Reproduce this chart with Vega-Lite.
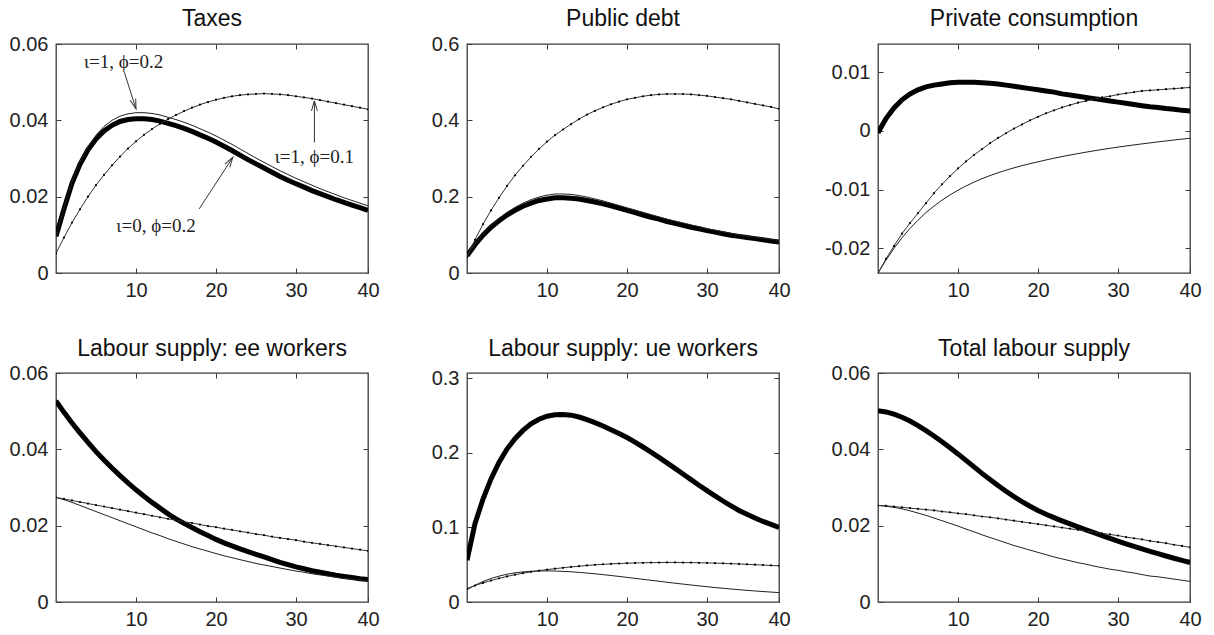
{
"$schema":"https://vega.github.io/schema/vega-lite/v6.json",
"background":"white",
"padding":{"left":8,"top":6,"right":5,"bottom":5},
"datasets":{
"curves":[
{"p":"Taxes","t":0,"thick":0.0096,"thin":0.0096,"dotted":0.0052},
{"p":"Taxes","t":1,"thick":0.0168,"thin":0.0170,"dotted":0.0093},
{"p":"Taxes","t":2,"thick":0.0235,"thin":0.0239,"dotted":0.0132},
{"p":"Taxes","t":3,"thick":0.0285,"thin":0.0291,"dotted":0.0167},
{"p":"Taxes","t":4,"thick":0.0323,"thin":0.0331,"dotted":0.0200},
{"p":"Taxes","t":5,"thick":0.0351,"thin":0.0361,"dotted":0.0230},
{"p":"Taxes","t":6,"thick":0.0372,"thin":0.0384,"dotted":0.0257},
{"p":"Taxes","t":7,"thick":0.0387,"thin":0.0400,"dotted":0.0282},
{"p":"Taxes","t":8,"thick":0.0397,"thin":0.0411,"dotted":0.0305},
{"p":"Taxes","t":9,"thick":0.0402,"thin":0.0417,"dotted":0.0326},
{"p":"Taxes","t":10,"thick":0.0404,"thin":0.0420,"dotted":0.0345},
{"p":"Taxes","t":11,"thick":0.0404,"thin":0.0420,"dotted":0.0362},
{"p":"Taxes","t":12,"thick":0.0402,"thin":0.0418,"dotted":0.0377},
{"p":"Taxes","t":13,"thick":0.0398,"thin":0.0414,"dotted":0.0391},
{"p":"Taxes","t":14,"thick":0.0392,"thin":0.0408,"dotted":0.0403},
{"p":"Taxes","t":15,"thick":0.0386,"thin":0.0402,"dotted":0.0414},
{"p":"Taxes","t":16,"thick":0.0379,"thin":0.0395,"dotted":0.0424},
{"p":"Taxes","t":17,"thick":0.0371,"thin":0.0387,"dotted":0.0433},
{"p":"Taxes","t":18,"thick":0.0362,"thin":0.0378,"dotted":0.0441},
{"p":"Taxes","t":19,"thick":0.0353,"thin":0.0369,"dotted":0.0448},
{"p":"Taxes","t":20,"thick":0.0343,"thin":0.0359,"dotted":0.0454},
{"p":"Taxes","t":21,"thick":0.0332,"thin":0.0348,"dotted":0.0459},
{"p":"Taxes","t":22,"thick":0.0321,"thin":0.0337,"dotted":0.0463},
{"p":"Taxes","t":23,"thick":0.0309,"thin":0.0325,"dotted":0.0466},
{"p":"Taxes","t":24,"thick":0.0297,"thin":0.0313,"dotted":0.0468},
{"p":"Taxes","t":25,"thick":0.0286,"thin":0.0301,"dotted":0.0469},
{"p":"Taxes","t":26,"thick":0.0275,"thin":0.0290,"dotted":0.0470},
{"p":"Taxes","t":27,"thick":0.0264,"thin":0.0279,"dotted":0.0469},
{"p":"Taxes","t":28,"thick":0.0253,"thin":0.0268,"dotted":0.0468},
{"p":"Taxes","t":29,"thick":0.0243,"thin":0.0258,"dotted":0.0466},
{"p":"Taxes","t":30,"thick":0.0234,"thin":0.0248,"dotted":0.0463},
{"p":"Taxes","t":31,"thick":0.0225,"thin":0.0239,"dotted":0.0460},
{"p":"Taxes","t":32,"thick":0.0216,"thin":0.0230,"dotted":0.0457},
{"p":"Taxes","t":33,"thick":0.0208,"thin":0.0221,"dotted":0.0453},
{"p":"Taxes","t":34,"thick":0.0200,"thin":0.0213,"dotted":0.0449},
{"p":"Taxes","t":35,"thick":0.0192,"thin":0.0205,"dotted":0.0445},
{"p":"Taxes","t":36,"thick":0.0185,"thin":0.0197,"dotted":0.0441},
{"p":"Taxes","t":37,"thick":0.0178,"thin":0.0190,"dotted":0.0437},
{"p":"Taxes","t":38,"thick":0.0171,"thin":0.0183,"dotted":0.0433},
{"p":"Taxes","t":39,"thick":0.0164,"thin":0.0176,"dotted":0.0429},
{"p":"Public debt","t":0,"thick":0.045,"thin":0.045,"dotted":0.041},
{"p":"Public debt","t":1,"thick":0.074,"thin":0.076,"dotted":0.087},
{"p":"Public debt","t":2,"thick":0.099,"thin":0.102,"dotted":0.128},
{"p":"Public debt","t":3,"thick":0.120,"thin":0.124,"dotted":0.164},
{"p":"Public debt","t":4,"thick":0.137,"thin":0.143,"dotted":0.197},
{"p":"Public debt","t":5,"thick":0.152,"thin":0.159,"dotted":0.228},
{"p":"Public debt","t":6,"thick":0.164,"thin":0.172,"dotted":0.256},
{"p":"Public debt","t":7,"thick":0.175,"thin":0.183,"dotted":0.281},
{"p":"Public debt","t":8,"thick":0.183,"thin":0.192,"dotted":0.304},
{"p":"Public debt","t":9,"thick":0.190,"thin":0.199,"dotted":0.325},
{"p":"Public debt","t":10,"thick":0.194,"thin":0.204,"dotted":0.344},
{"p":"Public debt","t":11,"thick":0.197,"thin":0.207,"dotted":0.361},
{"p":"Public debt","t":12,"thick":0.197,"thin":0.207,"dotted":0.376},
{"p":"Public debt","t":13,"thick":0.196,"thin":0.206,"dotted":0.390},
{"p":"Public debt","t":14,"thick":0.194,"thin":0.203,"dotted":0.403},
{"p":"Public debt","t":15,"thick":0.190,"thin":0.199,"dotted":0.415},
{"p":"Public debt","t":16,"thick":0.186,"thin":0.194,"dotted":0.425},
{"p":"Public debt","t":17,"thick":0.181,"thin":0.189,"dotted":0.434},
{"p":"Public debt","t":18,"thick":0.176,"thin":0.183,"dotted":0.442},
{"p":"Public debt","t":19,"thick":0.170,"thin":0.177,"dotted":0.449},
{"p":"Public debt","t":20,"thick":0.164,"thin":0.171,"dotted":0.455},
{"p":"Public debt","t":21,"thick":0.158,"thin":0.165,"dotted":0.459},
{"p":"Public debt","t":22,"thick":0.152,"thin":0.159,"dotted":0.463},
{"p":"Public debt","t":23,"thick":0.146,"thin":0.153,"dotted":0.466},
{"p":"Public debt","t":24,"thick":0.141,"thin":0.147,"dotted":0.468},
{"p":"Public debt","t":25,"thick":0.135,"thin":0.141,"dotted":0.469},
{"p":"Public debt","t":26,"thick":0.130,"thin":0.136,"dotted":0.469},
{"p":"Public debt","t":27,"thick":0.125,"thin":0.131,"dotted":0.469},
{"p":"Public debt","t":28,"thick":0.120,"thin":0.126,"dotted":0.468},
{"p":"Public debt","t":29,"thick":0.116,"thin":0.121,"dotted":0.466},
{"p":"Public debt","t":30,"thick":0.111,"thin":0.116,"dotted":0.464},
{"p":"Public debt","t":31,"thick":0.107,"thin":0.112,"dotted":0.461},
{"p":"Public debt","t":32,"thick":0.103,"thin":0.108,"dotted":0.458},
{"p":"Public debt","t":33,"thick":0.099,"thin":0.104,"dotted":0.455},
{"p":"Public debt","t":34,"thick":0.096,"thin":0.100,"dotted":0.451},
{"p":"Public debt","t":35,"thick":0.093,"thin":0.097,"dotted":0.447},
{"p":"Public debt","t":36,"thick":0.090,"thin":0.094,"dotted":0.443},
{"p":"Public debt","t":37,"thick":0.087,"thin":0.091,"dotted":0.439},
{"p":"Public debt","t":38,"thick":0.084,"thin":0.088,"dotted":0.435},
{"p":"Public debt","t":39,"thick":0.081,"thin":0.085,"dotted":0.430},
{"p":"Private consumption","t":0,"thick":-0.0003,"thin":-0.0242,"dotted":-0.0242},
{"p":"Private consumption","t":1,"thick":0.0021,"thin":-0.0220,"dotted":-0.0218},
{"p":"Private consumption","t":2,"thick":0.0039,"thin":-0.0200,"dotted":-0.0196},
{"p":"Private consumption","t":3,"thick":0.0053,"thin":-0.0182,"dotted":-0.0175},
{"p":"Private consumption","t":4,"thick":0.0063,"thin":-0.0166,"dotted":-0.0157},
{"p":"Private consumption","t":5,"thick":0.0070,"thin":-0.0152,"dotted":-0.0140},
{"p":"Private consumption","t":6,"thick":0.0075,"thin":-0.0139,"dotted":-0.0123},
{"p":"Private consumption","t":7,"thick":0.0078,"thin":-0.0128,"dotted":-0.0106},
{"p":"Private consumption","t":8,"thick":0.0080,"thin":-0.0118,"dotted":-0.0091},
{"p":"Private consumption","t":9,"thick":0.0082,"thin":-0.0109,"dotted":-0.0077},
{"p":"Private consumption","t":10,"thick":0.0083,"thin":-0.0101,"dotted":-0.0064},
{"p":"Private consumption","t":11,"thick":0.0083,"thin":-0.00938,"dotted":-0.0052},
{"p":"Private consumption","t":12,"thick":0.0083,"thin":-0.00873,"dotted":-0.0041},
{"p":"Private consumption","t":13,"thick":0.0082,"thin":-0.00814,"dotted":-0.0031},
{"p":"Private consumption","t":14,"thick":0.0081,"thin":-0.00761,"dotted":-0.0021},
{"p":"Private consumption","t":15,"thick":0.0080,"thin":-0.00713,"dotted":-0.0012},
{"p":"Private consumption","t":16,"thick":0.0078,"thin":-0.00669,"dotted":-0.0004},
{"p":"Private consumption","t":17,"thick":0.0076,"thin":-0.00629,"dotted":0.0004},
{"p":"Private consumption","t":18,"thick":0.0074,"thin":-0.00592,"dotted":0.0011},
{"p":"Private consumption","t":19,"thick":0.0072,"thin":-0.00558,"dotted":0.0018},
{"p":"Private consumption","t":20,"thick":0.0070,"thin":-0.00527,"dotted":0.0024},
{"p":"Private consumption","t":21,"thick":0.0068,"thin":-0.00495,"dotted":0.0030},
{"p":"Private consumption","t":22,"thick":0.0066,"thin":-0.00465,"dotted":0.0035},
{"p":"Private consumption","t":23,"thick":0.0063,"thin":-0.00437,"dotted":0.0040},
{"p":"Private consumption","t":24,"thick":0.0061,"thin":-0.00411,"dotted":0.0044},
{"p":"Private consumption","t":25,"thick":0.0059,"thin":-0.00386,"dotted":0.0048},
{"p":"Private consumption","t":26,"thick":0.0057,"thin":-0.00362,"dotted":0.0051},
{"p":"Private consumption","t":27,"thick":0.0055,"thin":-0.00339,"dotted":0.0054},
{"p":"Private consumption","t":28,"thick":0.0053,"thin":-0.00317,"dotted":0.0057},
{"p":"Private consumption","t":29,"thick":0.0051,"thin":-0.00296,"dotted":0.0059},
{"p":"Private consumption","t":30,"thick":0.0049,"thin":-0.00276,"dotted":0.0062},
{"p":"Private consumption","t":31,"thick":0.0047,"thin":-0.00257,"dotted":0.0064},
{"p":"Private consumption","t":32,"thick":0.0045,"thin":-0.00239,"dotted":0.0066},
{"p":"Private consumption","t":33,"thick":0.0043,"thin":-0.00221,"dotted":0.0068},
{"p":"Private consumption","t":34,"thick":0.0041,"thin":-0.00204,"dotted":0.0069},
{"p":"Private consumption","t":35,"thick":0.0040,"thin":-0.00187,"dotted":0.0070},
{"p":"Private consumption","t":36,"thick":0.0038,"thin":-0.00171,"dotted":0.0071},
{"p":"Private consumption","t":37,"thick":0.0037,"thin":-0.00155,"dotted":0.0072},
{"p":"Private consumption","t":38,"thick":0.0035,"thin":-0.0014,"dotted":0.0073},
{"p":"Private consumption","t":39,"thick":0.0034,"thin":-0.00125,"dotted":0.0074},
{"p":"Labour supply: ee workers","t":0,"thick":0.0527,"thin":0.0274,"dotted":0.0274},
{"p":"Labour supply: ee workers","t":1,"thick":0.0497,"thin":0.0268,"dotted":0.0270},
{"p":"Labour supply: ee workers","t":2,"thick":0.0469,"thin":0.0261,"dotted":0.0266},
{"p":"Labour supply: ee workers","t":3,"thick":0.0443,"thin":0.0253,"dotted":0.0262},
{"p":"Labour supply: ee workers","t":4,"thick":0.0418,"thin":0.0245,"dotted":0.0258},
{"p":"Labour supply: ee workers","t":5,"thick":0.0394,"thin":0.0237,"dotted":0.0254},
{"p":"Labour supply: ee workers","t":6,"thick":0.0372,"thin":0.0229,"dotted":0.0250},
{"p":"Labour supply: ee workers","t":7,"thick":0.0351,"thin":0.0221,"dotted":0.0246},
{"p":"Labour supply: ee workers","t":8,"thick":0.0331,"thin":0.0213,"dotted":0.0242},
{"p":"Labour supply: ee workers","t":9,"thick":0.0312,"thin":0.0205,"dotted":0.0238},
{"p":"Labour supply: ee workers","t":10,"thick":0.0294,"thin":0.0197,"dotted":0.0234},
{"p":"Labour supply: ee workers","t":11,"thick":0.0277,"thin":0.0189,"dotted":0.0230},
{"p":"Labour supply: ee workers","t":12,"thick":0.0261,"thin":0.0181,"dotted":0.0226},
{"p":"Labour supply: ee workers","t":13,"thick":0.0246,"thin":0.0174,"dotted":0.0222},
{"p":"Labour supply: ee workers","t":14,"thick":0.0231,"thin":0.0166,"dotted":0.0218},
{"p":"Labour supply: ee workers","t":15,"thick":0.0218,"thin":0.0159,"dotted":0.0214},
{"p":"Labour supply: ee workers","t":16,"thick":0.0206,"thin":0.0152,"dotted":0.0210},
{"p":"Labour supply: ee workers","t":17,"thick":0.0195,"thin":0.0145,"dotted":0.0207},
{"p":"Labour supply: ee workers","t":18,"thick":0.0184,"thin":0.0139,"dotted":0.0203},
{"p":"Labour supply: ee workers","t":19,"thick":0.0174,"thin":0.0133,"dotted":0.0199},
{"p":"Labour supply: ee workers","t":20,"thick":0.0164,"thin":0.0127,"dotted":0.0196},
{"p":"Labour supply: ee workers","t":21,"thick":0.0155,"thin":0.0121,"dotted":0.0192},
{"p":"Labour supply: ee workers","t":22,"thick":0.0147,"thin":0.0116,"dotted":0.0189},
{"p":"Labour supply: ee workers","t":23,"thick":0.0139,"thin":0.0111,"dotted":0.0185},
{"p":"Labour supply: ee workers","t":24,"thick":0.0132,"thin":0.0106,"dotted":0.0182},
{"p":"Labour supply: ee workers","t":25,"thick":0.0125,"thin":0.0101,"dotted":0.0178},
{"p":"Labour supply: ee workers","t":26,"thick":0.0118,"thin":0.0097,"dotted":0.0175},
{"p":"Labour supply: ee workers","t":27,"thick":0.0111,"thin":0.0093,"dotted":0.0171},
{"p":"Labour supply: ee workers","t":28,"thick":0.0104,"thin":0.0089,"dotted":0.0168},
{"p":"Labour supply: ee workers","t":29,"thick":0.0098,"thin":0.0085,"dotted":0.0165},
{"p":"Labour supply: ee workers","t":30,"thick":0.0092,"thin":0.0081,"dotted":0.0162},
{"p":"Labour supply: ee workers","t":31,"thick":0.0087,"thin":0.0078,"dotted":0.0158},
{"p":"Labour supply: ee workers","t":32,"thick":0.0082,"thin":0.0074,"dotted":0.0155},
{"p":"Labour supply: ee workers","t":33,"thick":0.0078,"thin":0.0071,"dotted":0.0152},
{"p":"Labour supply: ee workers","t":34,"thick":0.0074,"thin":0.0068,"dotted":0.0149},
{"p":"Labour supply: ee workers","t":35,"thick":0.0070,"thin":0.0065,"dotted":0.0146},
{"p":"Labour supply: ee workers","t":36,"thick":0.0067,"thin":0.0062,"dotted":0.0143},
{"p":"Labour supply: ee workers","t":37,"thick":0.0064,"thin":0.0060,"dotted":0.0140},
{"p":"Labour supply: ee workers","t":38,"thick":0.0061,"thin":0.0057,"dotted":0.0137},
{"p":"Labour supply: ee workers","t":39,"thick":0.0059,"thin":0.0055,"dotted":0.0134},
{"p":"Labour supply: ue workers","t":0,"thick":0.056,"thin":0.0165,"dotted":0.0180},
{"p":"Labour supply: ue workers","t":1,"thick":0.105,"thin":0.0225,"dotted":0.0220},
{"p":"Labour supply: ue workers","t":2,"thick":0.138,"thin":0.0275,"dotted":0.0256},
{"p":"Labour supply: ue workers","t":3,"thick":0.165,"thin":0.0315,"dotted":0.0288},
{"p":"Labour supply: ue workers","t":4,"thick":0.187,"thin":0.0347,"dotted":0.0317},
{"p":"Labour supply: ue workers","t":5,"thick":0.205,"thin":0.0372,"dotted":0.0343},
{"p":"Labour supply: ue workers","t":6,"thick":0.219,"thin":0.0391,"dotted":0.0366},
{"p":"Labour supply: ue workers","t":7,"thick":0.230,"thin":0.0404,"dotted":0.0386},
{"p":"Labour supply: ue workers","t":8,"thick":0.239,"thin":0.0412,"dotted":0.0404},
{"p":"Labour supply: ue workers","t":9,"thick":0.245,"thin":0.0416,"dotted":0.0420},
{"p":"Labour supply: ue workers","t":10,"thick":0.249,"thin":0.0417,"dotted":0.0434},
{"p":"Labour supply: ue workers","t":11,"thick":0.251,"thin":0.0415,"dotted":0.0447},
{"p":"Labour supply: ue workers","t":12,"thick":0.2515,"thin":0.0411,"dotted":0.0459},
{"p":"Labour supply: ue workers","t":13,"thick":0.2505,"thin":0.0405,"dotted":0.0470},
{"p":"Labour supply: ue workers","t":14,"thick":0.2480,"thin":0.0397,"dotted":0.0480},
{"p":"Labour supply: ue workers","t":15,"thick":0.2445,"thin":0.0388,"dotted":0.0490},
{"p":"Labour supply: ue workers","t":16,"thick":0.2405,"thin":0.0378,"dotted":0.0498},
{"p":"Labour supply: ue workers","t":17,"thick":0.2360,"thin":0.0367,"dotted":0.0505},
{"p":"Labour supply: ue workers","t":18,"thick":0.2310,"thin":0.0355,"dotted":0.0511},
{"p":"Labour supply: ue workers","t":19,"thick":0.2260,"thin":0.0343,"dotted":0.0516},
{"p":"Labour supply: ue workers","t":20,"thick":0.2205,"thin":0.0330,"dotted":0.0520},
{"p":"Labour supply: ue workers","t":21,"thick":0.2143,"thin":0.0317,"dotted":0.0523},
{"p":"Labour supply: ue workers","t":22,"thick":0.2078,"thin":0.0304,"dotted":0.0526},
{"p":"Labour supply: ue workers","t":23,"thick":0.2010,"thin":0.0291,"dotted":0.0528},
{"p":"Labour supply: ue workers","t":24,"thick":0.1939,"thin":0.0278,"dotted":0.0529},
{"p":"Labour supply: ue workers","t":25,"thick":0.1866,"thin":0.0265,"dotted":0.0530},
{"p":"Labour supply: ue workers","t":26,"thick":0.1791,"thin":0.0252,"dotted":0.0530},
{"p":"Labour supply: ue workers","t":27,"thick":0.1716,"thin":0.0240,"dotted":0.0529},
{"p":"Labour supply: ue workers","t":28,"thick":0.1641,"thin":0.0228,"dotted":0.0528},
{"p":"Labour supply: ue workers","t":29,"thick":0.1566,"thin":0.0216,"dotted":0.0526},
{"p":"Labour supply: ue workers","t":30,"thick":0.1493,"thin":0.0205,"dotted":0.0524},
{"p":"Labour supply: ue workers","t":31,"thick":0.1422,"thin":0.0194,"dotted":0.0521},
{"p":"Labour supply: ue workers","t":32,"thick":0.1354,"thin":0.0184,"dotted":0.0518},
{"p":"Labour supply: ue workers","t":33,"thick":0.1289,"thin":0.0174,"dotted":0.0514},
{"p":"Labour supply: ue workers","t":34,"thick":0.1227,"thin":0.0165,"dotted":0.0510},
{"p":"Labour supply: ue workers","t":35,"thick":0.1175,"thin":0.0156,"dotted":0.0505},
{"p":"Labour supply: ue workers","t":36,"thick":0.1125,"thin":0.0148,"dotted":0.0500},
{"p":"Labour supply: ue workers","t":37,"thick":0.1080,"thin":0.0140,"dotted":0.0495},
{"p":"Labour supply: ue workers","t":38,"thick":0.1040,"thin":0.0133,"dotted":0.0490},
{"p":"Labour supply: ue workers","t":39,"thick":0.1000,"thin":0.0126,"dotted":0.0485},
{"p":"Total labour supply","t":0,"thick":0.0501,"thin":0.0253,"dotted":0.0253},
{"p":"Total labour supply","t":1,"thick":0.0498,"thin":0.0251,"dotted":0.0252},
{"p":"Total labour supply","t":2,"thick":0.0492,"thin":0.0248,"dotted":0.0250},
{"p":"Total labour supply","t":3,"thick":0.0484,"thin":0.0244,"dotted":0.0248},
{"p":"Total labour supply","t":4,"thick":0.0474,"thin":0.0239,"dotted":0.0246},
{"p":"Total labour supply","t":5,"thick":0.0462,"thin":0.0233,"dotted":0.0244},
{"p":"Total labour supply","t":6,"thick":0.0449,"thin":0.0227,"dotted":0.0242},
{"p":"Total labour supply","t":7,"thick":0.0435,"thin":0.0220,"dotted":0.0240},
{"p":"Total labour supply","t":8,"thick":0.0420,"thin":0.0213,"dotted":0.0237},
{"p":"Total labour supply","t":9,"thick":0.0404,"thin":0.0206,"dotted":0.0235},
{"p":"Total labour supply","t":10,"thick":0.0388,"thin":0.0199,"dotted":0.0232},
{"p":"Total labour supply","t":11,"thick":0.0371,"thin":0.0191,"dotted":0.0230},
{"p":"Total labour supply","t":12,"thick":0.0354,"thin":0.0184,"dotted":0.0227},
{"p":"Total labour supply","t":13,"thick":0.0337,"thin":0.0176,"dotted":0.0224},
{"p":"Total labour supply","t":14,"thick":0.0321,"thin":0.0169,"dotted":0.0222},
{"p":"Total labour supply","t":15,"thick":0.0305,"thin":0.0162,"dotted":0.0219},
{"p":"Total labour supply","t":16,"thick":0.0290,"thin":0.0155,"dotted":0.0216},
{"p":"Total labour supply","t":17,"thick":0.0276,"thin":0.0148,"dotted":0.0213},
{"p":"Total labour supply","t":18,"thick":0.0263,"thin":0.0142,"dotted":0.0210},
{"p":"Total labour supply","t":19,"thick":0.0251,"thin":0.0136,"dotted":0.0207},
{"p":"Total labour supply","t":20,"thick":0.0240,"thin":0.0130,"dotted":0.0204},
{"p":"Total labour supply","t":21,"thick":0.0230,"thin":0.0124,"dotted":0.0201},
{"p":"Total labour supply","t":22,"thick":0.0221,"thin":0.0118,"dotted":0.0198},
{"p":"Total labour supply","t":23,"thick":0.02125,"thin":0.0113,"dotted":0.0195},
{"p":"Total labour supply","t":24,"thick":0.02045,"thin":0.0108,"dotted":0.0192},
{"p":"Total labour supply","t":25,"thick":0.01967,"thin":0.0103,"dotted":0.0189},
{"p":"Total labour supply","t":26,"thick":0.01891,"thin":0.0099,"dotted":0.0186},
{"p":"Total labour supply","t":27,"thick":0.01816,"thin":0.0094,"dotted":0.0183},
{"p":"Total labour supply","t":28,"thick":0.01741,"thin":0.0090,"dotted":0.0180},
{"p":"Total labour supply","t":29,"thick":0.01667,"thin":0.0086,"dotted":0.0177},
{"p":"Total labour supply","t":30,"thick":0.01595,"thin":0.0083,"dotted":0.0174},
{"p":"Total labour supply","t":31,"thick":0.01525,"thin":0.0079,"dotted":0.0170},
{"p":"Total labour supply","t":32,"thick":0.01457,"thin":0.0076,"dotted":0.0167},
{"p":"Total labour supply","t":33,"thick":0.01391,"thin":0.0072,"dotted":0.0164},
{"p":"Total labour supply","t":34,"thick":0.01327,"thin":0.0068,"dotted":0.0160},
{"p":"Total labour supply","t":35,"thick":0.01265,"thin":0.0066,"dotted":0.0157},
{"p":"Total labour supply","t":36,"thick":0.01205,"thin":0.0063,"dotted":0.0154},
{"p":"Total labour supply","t":37,"thick":0.01147,"thin":0.0060,"dotted":0.0150},
{"p":"Total labour supply","t":38,"thick":0.01091,"thin":0.0057,"dotted":0.0147},
{"p":"Total labour supply","t":39,"thick":0.01036,"thin":0.0054,"dotted":0.0143}
],
"notes":[
{"label":"ι=1, ϕ=0.2","x":8.44,"y":0.0552},
{"label":"ι=1, ϕ=0.1","x":32.3,"y":0.0304},
{"label":"ι=0, ϕ=0.2","x":12.5,"y":0.0124}
],
"arrows":[
{"id":"a","x0":8.54,"y0":0.0526,"x1":10.0,"y1":0.0430},
{"id":"b","x0":32.3,"y0":0.0342,"x1":32.3,"y1":0.0451},
{"id":"c","x0":17.9,"y0":0.0168,"x1":22.1,"y1":0.0303}
]
},
"columns":3,
"spacing":{"row":100,"column":99},
"bounds":"flush",
"concat":[
{"title":{"text":"Taxes","offset":3},"width":312,"height":229,
 "layer":[
  {"data":{"name":"curves"},"transform":[{"filter":"datum.p === 'Taxes'"},{"fold":["thick","thin","dotted"],"as":["series","value"]}],
   "mark":{"type":"line","clip":true},
   "encoding":{
    "x":{"field":"t","type":"quantitative","title":null,"scale":{"domain":[0,39],"nice":false,"zero":false},"axis":{"orient":"bottom","values":[10,20,30,39],"labelExpr":"datum.value == 39 ? '40' : datum.label"}},
    "y":{"field":"value","type":"quantitative","title":null,"scale":{"domain":[0,0.06],"nice":false,"zero":false},"axis":{"orient":"left","values":[0,0.02,0.04,0.06],"format":"~g"}},
    "color":{"field":"series","type":"nominal","scale":{"domain":["thick","thin","dotted"],"range":["#000000","#222222","#333333"]},"legend":null},
    "strokeWidth":{"field":"series","type":"nominal","scale":{"type":"ordinal","domain":["thick","thin","dotted"],"range":[5,1,1]},"legend":null}}},
  {"data":{"name":"curves"},"transform":[{"filter":"datum.p === 'Taxes'"},{"fold":["dotted"],"as":["series","value"]}],
   "mark":{"type":"point","filled":true,"size":5,"color":"#000000","opacity":1,"clip":true},
   "encoding":{"x":{"field":"t","type":"quantitative","scale":{"domain":[0,39],"nice":false,"zero":false},"axis":null},"y":{"field":"value","type":"quantitative","scale":{"domain":[0,0.06],"nice":false,"zero":false},"axis":null}}},
  {"data":{"name":"notes"},
   "mark":{"type":"text","font":"Liberation Serif","fontSize":19,"color":"#222222","align":"center","baseline":"middle"},
   "encoding":{"x":{"field":"x","type":"quantitative","scale":{"domain":[0,39],"nice":false,"zero":false},"axis":null},"y":{"field":"y","type":"quantitative","scale":{"domain":[0,0.06],"nice":false,"zero":false},"axis":null},"text":{"field":"label"}}},
  {"data":{"name":"arrows"},
   "mark":{"type":"rule","color":"#333333","strokeWidth":1},
   "encoding":{"x":{"field":"x0","type":"quantitative","scale":{"domain":[0,39],"nice":false,"zero":false},"axis":null},"y":{"field":"y0","type":"quantitative","scale":{"domain":[0,0.06],"nice":false,"zero":false},"axis":null},"x2":{"field":"x1"},"y2":{"field":"y1"}}},
  {"data":{"name":"arrows"},"transform":[{"filter":"datum.id === 'a'"}],
   "mark":{"type":"point","shape":"M-0.5,1.7L0,0L0.5,1.7","size":140,"filled":false,"strokeWidth":1,"color":"#333333","opacity":1,"angle":162},
   "encoding":{"x":{"field":"x1","type":"quantitative","scale":{"domain":[0,39],"nice":false,"zero":false},"axis":null},"y":{"field":"y1","type":"quantitative","scale":{"domain":[0,0.06],"nice":false,"zero":false},"axis":null}}},
  {"data":{"name":"arrows"},"transform":[{"filter":"datum.id === 'b'"}],
   "mark":{"type":"point","shape":"M-0.5,1.7L0,0L0.5,1.7","size":140,"filled":false,"strokeWidth":1,"color":"#333333","opacity":1,"angle":0},
   "encoding":{"x":{"field":"x1","type":"quantitative","scale":{"domain":[0,39],"nice":false,"zero":false},"axis":null},"y":{"field":"y1","type":"quantitative","scale":{"domain":[0,0.06],"nice":false,"zero":false},"axis":null}}},
  {"data":{"name":"arrows"},"transform":[{"filter":"datum.id === 'c'"}],
   "mark":{"type":"point","shape":"M-0.5,1.7L0,0L0.5,1.7","size":140,"filled":false,"strokeWidth":1,"color":"#333333","opacity":1,"angle":33},
   "encoding":{"x":{"field":"x1","type":"quantitative","scale":{"domain":[0,39],"nice":false,"zero":false},"axis":null},"y":{"field":"y1","type":"quantitative","scale":{"domain":[0,0.06],"nice":false,"zero":false},"axis":null}}},
  {"data":{"name":"curves"},"transform":[{"filter":"datum.p === 'Taxes'"},{"fold":["thick"],"as":["series","value"]}],
   "mark":{"type":"point","opacity":0},
   "encoding":{"x":{"field":"t","type":"quantitative","title":null,"scale":{"domain":[0,39],"nice":false,"zero":false},"axis":{"orient":"top","values":[10,20,30],"labels":false}},"y":{"field":"value","type":"quantitative","title":null,"scale":{"domain":[0,0.06],"nice":false,"zero":false},"axis":{"orient":"right","values":[0.02,0.04],"labels":false}}}}
 ],
 "resolve":{"axis":{"x":"independent","y":"independent"}}},
{"title":{"text":"Public debt","offset":3},"width":312,"height":229,
 "data":{"name":"curves"},
 "transform":[{"filter":"datum.p === 'Public debt'"},{"fold":["thick","thin","dotted"],"as":["series","value"]}],
 "layer":[
  {"mark":{"type":"line","clip":true},
   "encoding":{
    "x":{"field":"t","type":"quantitative","title":null,"scale":{"domain":[0,39],"nice":false,"zero":false},"axis":{"orient":"bottom","values":[10,20,30,39],"labelExpr":"datum.value == 39 ? '40' : datum.label"}},
    "y":{"field":"value","type":"quantitative","title":null,"scale":{"domain":[0,0.6],"nice":false,"zero":false},"axis":{"orient":"left","values":[0,0.2,0.4,0.6],"format":"~g"}},
    "color":{"field":"series","type":"nominal","scale":{"domain":["thick","thin","dotted"],"range":["#000000","#222222","#333333"]},"legend":null},
    "strokeWidth":{"field":"series","type":"nominal","scale":{"type":"ordinal","domain":["thick","thin","dotted"],"range":[5,1,1]},"legend":null}}},
  {"transform":[{"filter":"datum.series === 'dotted'"}],
   "mark":{"type":"point","filled":true,"size":5,"color":"#000000","opacity":1,"clip":true},
   "encoding":{"x":{"field":"t","type":"quantitative","scale":{"domain":[0,39],"nice":false,"zero":false},"axis":null},"y":{"field":"value","type":"quantitative","scale":{"domain":[0,0.6],"nice":false,"zero":false},"axis":null}}},
  {"mark":{"type":"point","opacity":0},
   "encoding":{"x":{"field":"t","type":"quantitative","title":null,"scale":{"domain":[0,39],"nice":false,"zero":false},"axis":{"orient":"top","values":[10,20,30],"labels":false}},"y":{"field":"value","type":"quantitative","title":null,"scale":{"domain":[0,0.6],"nice":false,"zero":false},"axis":{"orient":"right","values":[0.2,0.4],"labels":false}}}}
 ],
 "resolve":{"axis":{"x":"independent","y":"independent"}}},
{"title":{"text":"Private consumption","offset":13},"width":312,"height":229,
 "data":{"name":"curves"},
 "transform":[{"filter":"datum.p === 'Private consumption'"},{"fold":["thick","thin","dotted"],"as":["series","value"]}],
 "layer":[
  {"mark":{"type":"line","clip":true},
   "encoding":{
    "x":{"field":"t","type":"quantitative","title":null,"scale":{"domain":[0,39],"nice":false,"zero":false},"axis":{"orient":"bottom","values":[10,20,30,39],"labelExpr":"datum.value == 39 ? '40' : datum.label"}},
    "y":{"field":"value","type":"quantitative","title":null,"scale":{"domain":[-0.0242,0.0148],"nice":false,"zero":false},"axis":{"orient":"left","values":[-0.02,-0.01,0,0.01],"format":"~g","labelExpr":"replace(datum.label, '−', '-')"}},
    "color":{"field":"series","type":"nominal","scale":{"domain":["thick","thin","dotted"],"range":["#000000","#222222","#333333"]},"legend":null},
    "strokeWidth":{"field":"series","type":"nominal","scale":{"type":"ordinal","domain":["thick","thin","dotted"],"range":[5,1,1]},"legend":null}}},
  {"transform":[{"filter":"datum.series === 'dotted'"}],
   "mark":{"type":"point","filled":true,"size":5,"color":"#000000","opacity":1,"clip":true},
   "encoding":{"x":{"field":"t","type":"quantitative","scale":{"domain":[0,39],"nice":false,"zero":false},"axis":null},"y":{"field":"value","type":"quantitative","scale":{"domain":[-0.0242,0.0148],"nice":false,"zero":false},"axis":null}}},
  {"mark":{"type":"point","opacity":0},
   "encoding":{"x":{"field":"t","type":"quantitative","title":null,"scale":{"domain":[0,39],"nice":false,"zero":false},"axis":{"orient":"top","values":[10,20,30],"labels":false}},"y":{"field":"value","type":"quantitative","title":null,"scale":{"domain":[-0.0242,0.0148],"nice":false,"zero":false},"axis":{"orient":"right","values":[-0.02,-0.01,0,0.01],"labels":false}}}}
 ],
 "resolve":{"axis":{"x":"independent","y":"independent"}}},
{"title":{"text":"Labour supply: ee workers","offset":2},"width":312,"height":229,
 "data":{"name":"curves"},
 "transform":[{"filter":"datum.p === 'Labour supply: ee workers'"},{"fold":["thick","thin","dotted"],"as":["series","value"]}],
 "layer":[
  {"mark":{"type":"line","clip":true},
   "encoding":{
    "x":{"field":"t","type":"quantitative","title":null,"scale":{"domain":[0,39],"nice":false,"zero":false},"axis":{"orient":"bottom","values":[10,20,30,39],"labelExpr":"datum.value == 39 ? '40' : datum.label"}},
    "y":{"field":"value","type":"quantitative","title":null,"scale":{"domain":[0,0.06],"nice":false,"zero":false},"axis":{"orient":"left","values":[0,0.02,0.04,0.06],"format":"~g"}},
    "color":{"field":"series","type":"nominal","scale":{"domain":["thick","thin","dotted"],"range":["#000000","#222222","#333333"]},"legend":null},
    "strokeWidth":{"field":"series","type":"nominal","scale":{"type":"ordinal","domain":["thick","thin","dotted"],"range":[5,1,1]},"legend":null}}},
  {"transform":[{"filter":"datum.series === 'dotted'"}],
   "mark":{"type":"point","filled":true,"size":5,"color":"#000000","opacity":1,"clip":true},
   "encoding":{"x":{"field":"t","type":"quantitative","scale":{"domain":[0,39],"nice":false,"zero":false},"axis":null},"y":{"field":"value","type":"quantitative","scale":{"domain":[0,0.06],"nice":false,"zero":false},"axis":null}}},
  {"mark":{"type":"point","opacity":0},
   "encoding":{"x":{"field":"t","type":"quantitative","title":null,"scale":{"domain":[0,39],"nice":false,"zero":false},"axis":{"orient":"top","values":[10,20,30],"labels":false}},"y":{"field":"value","type":"quantitative","title":null,"scale":{"domain":[0,0.06],"nice":false,"zero":false},"axis":{"orient":"right","values":[0.02,0.04],"labels":false}}}}
 ],
 "resolve":{"axis":{"x":"independent","y":"independent"}}},
{"title":{"text":"Labour supply: ue workers","offset":7},"width":312,"height":229,
 "data":{"name":"curves"},
 "transform":[{"filter":"datum.p === 'Labour supply: ue workers'"},{"fold":["thick","thin","dotted"],"as":["series","value"]}],
 "layer":[
  {"mark":{"type":"line","clip":true},
   "encoding":{
    "x":{"field":"t","type":"quantitative","title":null,"scale":{"domain":[0,39],"nice":false,"zero":false},"axis":{"orient":"bottom","values":[10,20,30,39],"labelExpr":"datum.value == 39 ? '40' : datum.label"}},
    "y":{"field":"value","type":"quantitative","title":null,"scale":{"domain":[0,0.307],"nice":false,"zero":false},"axis":{"orient":"left","values":[0,0.1,0.2,0.3],"format":"~g"}},
    "color":{"field":"series","type":"nominal","scale":{"domain":["thick","thin","dotted"],"range":["#000000","#222222","#333333"]},"legend":null},
    "strokeWidth":{"field":"series","type":"nominal","scale":{"type":"ordinal","domain":["thick","thin","dotted"],"range":[5,1,1]},"legend":null}}},
  {"transform":[{"filter":"datum.series === 'dotted'"}],
   "mark":{"type":"point","filled":true,"size":5,"color":"#000000","opacity":1,"clip":true},
   "encoding":{"x":{"field":"t","type":"quantitative","scale":{"domain":[0,39],"nice":false,"zero":false},"axis":null},"y":{"field":"value","type":"quantitative","scale":{"domain":[0,0.307],"nice":false,"zero":false},"axis":null}}},
  {"mark":{"type":"point","opacity":0},
   "encoding":{"x":{"field":"t","type":"quantitative","title":null,"scale":{"domain":[0,39],"nice":false,"zero":false},"axis":{"orient":"top","values":[10,20,30],"labels":false}},"y":{"field":"value","type":"quantitative","title":null,"scale":{"domain":[0,0.307],"nice":false,"zero":false},"axis":{"orient":"right","values":[0.1,0.2,0.3],"labels":false}}}}
 ],
 "resolve":{"axis":{"x":"independent","y":"independent"}}},
{"title":{"text":"Total labour supply","offset":2},"width":312,"height":229,
 "data":{"name":"curves"},
 "transform":[{"filter":"datum.p === 'Total labour supply'"},{"fold":["thick","thin","dotted"],"as":["series","value"]}],
 "layer":[
  {"mark":{"type":"line","clip":true},
   "encoding":{
    "x":{"field":"t","type":"quantitative","title":null,"scale":{"domain":[0,39],"nice":false,"zero":false},"axis":{"orient":"bottom","values":[10,20,30,39],"labelExpr":"datum.value == 39 ? '40' : datum.label"}},
    "y":{"field":"value","type":"quantitative","title":null,"scale":{"domain":[0,0.06],"nice":false,"zero":false},"axis":{"orient":"left","values":[0,0.02,0.04,0.06],"format":"~g"}},
    "color":{"field":"series","type":"nominal","scale":{"domain":["thick","thin","dotted"],"range":["#000000","#222222","#333333"]},"legend":null},
    "strokeWidth":{"field":"series","type":"nominal","scale":{"type":"ordinal","domain":["thick","thin","dotted"],"range":[5,1,1]},"legend":null}}},
  {"transform":[{"filter":"datum.series === 'dotted'"}],
   "mark":{"type":"point","filled":true,"size":5,"color":"#000000","opacity":1,"clip":true},
   "encoding":{"x":{"field":"t","type":"quantitative","scale":{"domain":[0,39],"nice":false,"zero":false},"axis":null},"y":{"field":"value","type":"quantitative","scale":{"domain":[0,0.06],"nice":false,"zero":false},"axis":null}}},
  {"mark":{"type":"point","opacity":0},
   "encoding":{"x":{"field":"t","type":"quantitative","title":null,"scale":{"domain":[0,39],"nice":false,"zero":false},"axis":{"orient":"top","values":[10,20,30],"labels":false}},"y":{"field":"value","type":"quantitative","title":null,"scale":{"domain":[0,0.06],"nice":false,"zero":false},"axis":{"orient":"right","values":[0.02,0.04],"labels":false}}}}
 ],
 "resolve":{"axis":{"x":"independent","y":"independent"}}}
],
"config":{
 "view":{"stroke":"#3a3a3a","strokeWidth":1.3},
 "axis":{"grid":false,"domain":false,"ticks":true,"tickSize":-5,"tickColor":"#3a3a3a","tickWidth":1,"labelFont":"Liberation Sans","labelFontSize":20,"labelColor":"#222222","labelFlush":false,"labelOverlap":false},
 "axisBottom":{"labelPadding":12},
 "axisLeft":{"labelPadding":13},
 "title":{"font":"Liberation Sans","fontSize":23,"fontWeight":"normal","color":"#111111","baseline":"alphabetic","anchor":"middle"}
}
}
